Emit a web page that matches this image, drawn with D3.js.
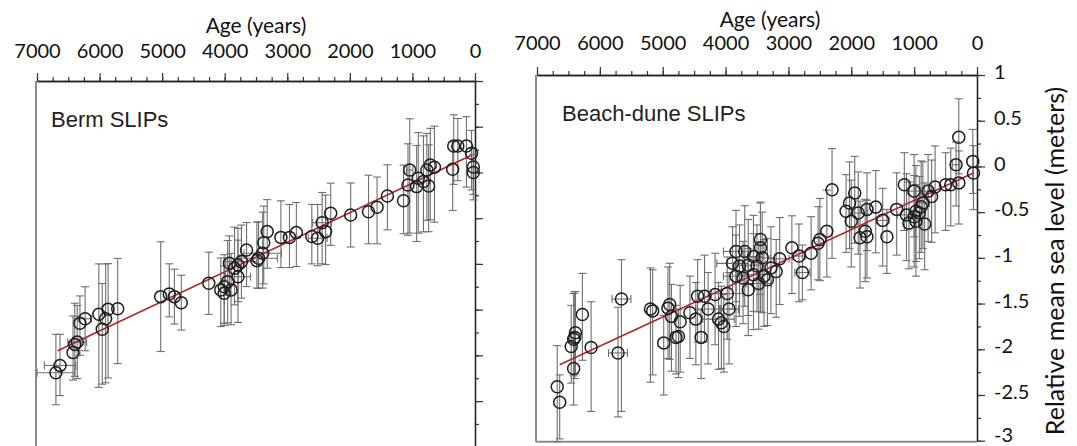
<!DOCTYPE html>
<html>
<head>
<meta charset="utf-8">
<script src="https://cdn.jsdelivr.net/npm/d3@7/dist/d3.min.js"></script>
<style>
  body { margin: 0; background: #fff; }
  svg { display: block; }
</style>
</head>
<body>
<svg id="chart"></svg>
<script>
// ---- data: Berm SLIPs (age in years BP, level in m, error up/down in m, age error in years)
var bermAge     = [340, 275, 137, 55, 27, 27, 357, 1043, 714, 648, 769, 906, 1071, 933, 741, 824,
                   1142, 1400, 1565, 1702, 1987, 2306, 2443, 2388, 2514, 2608, 2855, 2965, 3102,
                   3321, 3376, 3393, 3459, 3486, 3651, 3733, 3788, 3843, 3925, 3788, 3953, 4008,
                   4063, 3898, 4008, 4255, 5023, 4886, 4804, 4694, 5710, 5864, 6012, 5903, 6231,
                   6314, 5957, 6357, 6396, 6424, 6632, 6698];
var bermLevel   = [0.29, 0.29, 0.29, 0.21, 0.06, 0.0, 0.034, 0.027, 0.082, 0.056, 0.027, -0.064, -0.137, -0.155, -0.148, -0.10,
                   -0.31, -0.257, -0.38, -0.43, -0.465, -0.447, -0.549, -0.647, -0.72, -0.70, -0.658, -0.71, -0.71,
                   -0.647, -0.768, -0.884, -0.939, -0.964, -0.848, -0.975, -1.012, -1.048, -0.994, -1.14, -1.194, -1.249,
                   -1.285, -1.285, -1.322, -1.212, -1.358, -1.329, -1.358, -1.424, -1.49, -1.497, -1.55, -1.60, -1.60,
                   -1.65, -1.715, -1.854, -1.88, -1.97, -2.11, -2.19];
var bermErrUp   = [0.34, 0.30, 0.32, 0.25, 0.2, 0.2, 0.3, 0.56, 0.4, 0.45, 0.4, 0.5, 0.45, 0.45, 0.45, 0.5,
                   0.39, 0.34, 0.33, 0.4, 0.35, 0.33, 0.33, 0.4, 0.37, 0.35, 0.33, 0.36, 0.4,
                   0.35, 0.4, 0.45, 0.4, 0.42, 0.3, 0.4, 0.4, 0.45, 0.3, 0.4, 0.45, 0.35,
                   0.35, 0.4, 0.3, 0.34, 0.6, 0.33, 0.3, 0.3, 0.55, 0.5, 0.55, 0.6, 0.35,
                   0.3, 0.5, 0.4, 0.45, 0.4, 0.34, 0.42];
var bermErrDown = [0.42, 0.38, 0.45, 0.4, 0.3, 0.3, 0.45, 0.69, 0.6, 0.6, 0.55, 0.6, 0.55, 0.6, 0.5, 0.55,
                   0.36, 0.37, 0.4, 0.35, 0.35, 0.35, 0.45, 0.36, 0.3, 0.3, 0.37, 0.33, 0.33,
                   0.4, 0.45, 0.38, 0.33, 0.3, 0.4, 0.4, 0.4, 0.4, 0.35, 0.5, 0.45, 0.4,
                   0.4, 0.38, 0.35, 0.34, 0.6, 0.25, 0.3, 0.3, 0.6, 0.75, 0.8, 0.7, 0.35,
                   0.35, 0.6, 0.4, 0.35, 0.3, 0.33, 0.35];
var bermAgeErr  = [0, 0, 0, 0, 0, 0, 0, 50, 0, 0, 0, 0, 0, 0, 0, 0,
                   0, 0, 0, 0, 0, 0, 150, 0, 150, 0, 0, 0, 0,
                   0, 0, 300, 300, 0, 0, 250, 0, 0, 0, 200, 0, 0,
                   0, 0, 0, 0, 0, 0, 0, 0, 0, 0, 0, 0, 100,
                   0, 0, 150, 0, 0, 250, 300];
var bermFitAge   = [6670, 50];
var bermFitLevel = [-1.95, 0.19];

// ---- data: Beach-dune SLIPs
var duneAge     = [290, 67, 333, 56, 289, 417, 500, 667, 778, 722, 861, 889, 972, 1000, 1156, 1278,
                   1122, 1000, 917, 1083, 972, 833, 1500, 1611, 1750, 1889, 2028, 1945, 2083, 2000,
                   1778, 1861, 1750, 1433, 2306, 2389, 2500, 2528, 2639, 2833, 2945, 3139, 3195, 2778,
                   3445, 3445, 3417, 3834, 3695, 3556, 3889, 3778, 3639, 3500, 3834, 3722, 3556, 3389,
                   3278, 3334, 3472, 3639, 3973, 4167, 4334, 4445, 5656, 5195, 5160, 4889, 4917, 6278,
                   4861, 4722, 4567, 4473, 4278, 4112, 4067, 4028, 3945, 4750, 4789, 4389, 4984, 6389,
                   6400, 6417, 6456, 6139, 5711, 6417, 6678, 6639];
var duneLevel   = [0.32, 0.055, 0.018, -0.073, -0.18, -0.20, -0.20, -0.226, -0.27, -0.33, -0.40, -0.44, -0.49, -0.27, -0.20, -0.47,
                   -0.53, -0.55, -0.51, -0.62, -0.60, -0.63, -0.59, -0.445, -0.47, -0.51, -0.40, -0.29, -0.49, -0.60,
                   -0.71, -0.78, -0.77, -0.77, -0.255, -0.71, -0.80, -0.84, -0.95, -0.98, -0.89, -1.01, -1.15, -1.16,
                   -0.80, -0.89, -1.00, -0.93, -0.93, -0.985, -1.06, -1.09, -1.08, -1.09, -1.20, -1.22, -1.185, -1.20,
                   -1.11, -1.24, -1.28, -1.35, -1.39, -1.40, -1.42, -1.42, -1.45, -1.56, -1.58, -1.51, -1.55, -1.62,
                   -1.64, -1.70, -1.60, -1.67, -1.56, -1.67, -1.71, -1.75, -1.56, -1.86, -1.87, -1.87, -1.93, -1.82,
                   -1.87, -1.89, -1.97, -1.98, -2.04, -2.21, -2.41, -2.58];
var duneErrUp   = [0.42, 0.35, 0.25, 0.3, 0.35, 0.4, 0.35, 0.45, 0.4, 0.4, 0.45, 0.5, 0.5, 0.4, 0.35, 0.4,
                   0.45, 0.45, 0.4, 0.45, 0.4, 0.45, 0.35, 0.4, 0.4, 0.45, 0.45, 0.4, 0.4, 0.45,
                   0.35, 0.4, 0.4, 0.3, 0.45, 0.45, 0.45, 0.4, 0.4, 0.35, 0.35, 0.45, 0.35, 0.3,
                   0.4, 0.5, 0.5, 0.45, 0.5, 0.45, 0.4, 0.45, 0.5, 0.45, 0.45, 0.4, 0.45, 0.4,
                   0.45, 0.45, 0.45, 0.45, 0.4, 0.45, 0.45, 0.4, 0.43, 0.45, 0.45, 0.45, 0.45, 0.45,
                   0.35, 0.4, 0.4, 0.4, 0.4, 0.4, 0.4, 0.35, 0.4, 0.3, 0.35, 0.3, 0.3, 0.45,
                   0.5, 0.5, 0.45, 0.5, 0.5, 0.4, 0.45, 0.3];
var duneErrDown = [0.40, 0.35, 0.45, 0.4, 0.45, 0.45, 0.5, 0.5, 0.55, 0.5, 0.5, 0.5, 0.55, 0.5, 0.5, 0.5,
                   0.5, 0.55, 0.5, 0.5, 0.6, 0.5, 0.5, 0.5, 0.45, 0.45, 0.5, 0.55, 0.45, 0.5,
                   0.55, 0.55, 0.45, 0.4, 0.75, 0.5, 0.45, 0.4, 0.4, 0.5, 0.5, 0.5, 0.5, 0.3,
                   0.6, 0.7, 0.6, 0.55, 0.6, 0.6, 0.5, 0.55, 0.55, 0.5, 0.55, 0.5, 0.6, 0.55,
                   0.5, 0.5, 0.5, 0.5, 0.5, 0.55, 0.5, 0.5, 1.23, 0.8, 0.7, 0.6, 0.55, 0.5,
                   0.6, 0.55, 0.5, 0.5, 0.6, 0.55, 0.5, 0.5, 0.6, 0.45, 0.4, 0.45, 0.57, 0.45,
                   0.45, 0.4, 0.4, 0.7, 0.7, 0.4, 0.6, 0.4];
var duneAgeErr  = [0, 0, 60, 0, 0, 0, 0, 0, 80, 0, 100, 0, 0, 100, 0, 0,
                   150, 0, 0, 0, 0, 0, 100, 0, 0, 150, 0, 0, 0, 0,
                   0, 0, 0, 0, 0, 0, 0, 0, 0, 100, 0, 150, 0, 120,
                   0, 0, 200, 200, 0, 150, 250, 0, 200, 0, 200, 0, 250, 0,
                   0, 0, 200, 0, 250, 0, 0, 0, 150, 0, 0, 0, 0, 0,
                   0, 0, 0, 0, 200, 250, 0, 0, 150, 0, 0, 0, 0, 0,
                   0, 0, 0, 0, 150, 0, 0, 0];
var duneFitAge   = [6640, 50];
var duneFitLevel = [-2.17, -0.07];

// axis ticks
var ageMajor   = [7000, 6000, 5000, 4000, 3000, 2000, 1000, 0];
var ageMinor   = d3.range(0, 7001, 250);
var levelMajor = [1, 0.5, 0, -0.5, -1, -1.5, -2, -2.5, -3];
var levelMinor = d3.range(-3, 1.001, 0.25);

var svg = d3.select('#chart')
    .attr('width', 1077)
    .attr('height', 446);

var barColor = '#6f6f6f';

function drawPanel(p) {
    var x = d3.scaleLinear().domain([7000, 0]).range([p.left, p.right]);
    var y = d3.scaleLinear().domain([-3, 1]).range([p.bottom, p.top]);

    var g = svg.append('g');

    // frame (gray left + bottom)
    g.append('line')
        .attr('x1', p.left - 1).attr('x2', p.left - 1)
        .attr('y1', p.top).attr('y2', p.bottom + 1)
        .style('stroke', '#8c8c8c').style('stroke-width', 2);
    g.append('line')
        .attr('x1', p.left - 1).attr('x2', p.right)
        .attr('y1', p.bottom + 1).attr('y2', p.bottom + 1)
        .style('stroke', '#8c8c8c').style('stroke-width', 2);

    // top age axis
    g.append('g')
        .attr('transform', 'translate(0,' + p.top + ')')
        .call(d3.axisTop(x).tickValues(ageMinor).tickSize(4).tickSizeOuter(0).tickFormat(''));
    var majorX = g.append('g')
        .attr('transform', 'translate(0,' + p.top + ')')
        .call(d3.axisTop(x).tickValues(ageMajor).tickSize(8).tickSizeOuter(0).tickFormat(function (d) { return String(d); }));
    majorX.selectAll('text')
        .attr('y', -p.tickLabelOffset)
        .style('font-family', 'Lato, "Open Sans", sans-serif')
        .style('font-size', '20px')
        .style('fill', '#111');

    // right level axis
    g.append('g')
        .attr('transform', 'translate(' + p.right + ',0)')
        .call(d3.axisRight(y).tickValues(levelMinor).tickSize(4).tickSizeOuter(0).tickFormat(''));
    var majorY = g.append('g')
        .attr('transform', 'translate(' + p.right + ',0)')
        .call(d3.axisRight(y).tickValues(levelMajor).tickSize(8).tickSizeOuter(0)
            .tickPadding(9)
            .tickFormat(function (d) { return p.yLabels ? String(d) : ''; }));
    majorY.selectAll('text')
        .attr('dy', function (d) { return d === -3 ? '0.02em' : '0.18em'; })
        .style('font-family', 'Lato, "Open Sans", sans-serif')
        .style('font-size', '20px')
        .style('fill', '#111');

    g.selectAll('.domain').style('stroke', '#222').style('stroke-width', 1.3);
    g.selectAll('.tick line').style('stroke', '#333').style('stroke-width', 1.2);

    // age title
    g.append('text')
        .attr('x', p.ageTitleX)
        .attr('y', p.ageTitleY)
        .attr('text-anchor', 'middle')
        .style('font-family', 'Lato, "Open Sans", sans-serif')
        .style('font-size', '21px')
        .style('fill', '#111')
        .text('Age (years)');

    // panel title
    g.append('text')
        .attr('x', p.titleX)
        .attr('y', p.titleY)
        .style('font-family', '"Liberation Sans", Arial, sans-serif')
        .style('font-size', '22px')
        .style('fill', '#222')
        .text(p.title);

    var pts = p.age.map(function (a, i) {
        return { age: a, level: p.level[i], up: p.up[i], down: p.down[i], ageErr: p.ageErr[i] };
    });

    // error bars
    var bars = g.append('g').style('stroke', barColor).style('stroke-width', 1.1);
    pts.forEach(function (d) {
        var cx = x(d.age), yTop = y(d.level + d.up), yBot = y(d.level - d.down);
        bars.append('line').attr('x1', cx).attr('x2', cx).attr('y1', yTop).attr('y2', yBot);
        bars.append('line').attr('x1', cx - 4).attr('x2', cx + 4).attr('y1', yTop).attr('y2', yTop);
        bars.append('line').attr('x1', cx - 4).attr('x2', cx + 4).attr('y1', yBot).attr('y2', yBot);
        if (d.ageErr > 0) {
            var cy = y(d.level), xl = x(d.age + d.ageErr), xr = x(d.age - d.ageErr);
            bars.append('line').attr('x1', xl).attr('x2', xr).attr('y1', cy).attr('y2', cy);
            bars.append('line').attr('x1', xl).attr('x2', xl).attr('y1', cy - 4).attr('y2', cy + 4);
            bars.append('line').attr('x1', xr).attr('x2', xr).attr('y1', cy - 4).attr('y2', cy + 4);
        }
    });

    // fit line
    var fit = p.fitAge.map(function (a, i) { return [a, p.fitLevel[i]]; });
    g.append('path')
        .datum(fit)
        .attr('d', d3.line().x(function (d) { return x(d[0]); }).y(function (d) { return y(d[1]); }))
        .style('fill', 'none')
        .style('stroke', '#b3262a')
        .style('stroke-width', 1.6);

    // points
    g.selectAll('circle')
        .data(pts)
        .enter()
        .append('circle')
        .attr('cx', function (d) { return x(d.age); })
        .attr('cy', function (d) { return y(d.level); })
        .attr('r', 6)
        .style('fill', 'none')
        .style('stroke', '#1e1e1e')
        .style('stroke-width', 1.5);
}

drawPanel({
    left: 37, right: 475, top: 81, bottom: 446.8,
    tickLabelOffset: 23, ageTitleX: 256, ageTitleY: 33,
    title: 'Berm SLIPs', titleX: 51, titleY: 127,
    yLabels: false,
    age: bermAge, level: bermLevel, up: bermErrUp, down: bermErrDown, ageErr: bermAgeErr,
    fitAge: bermFitAge, fitLevel: bermFitLevel
});

drawPanel({
    left: 537, right: 977, top: 75, bottom: 440.7,
    tickLabelOffset: 25, ageTitleX: 770, ageTitleY: 27,
    title: 'Beach-dune SLIPs', titleX: 562, titleY: 121,
    yLabels: true,
    age: duneAge, level: duneLevel, up: duneErrUp, down: duneErrDown, ageErr: duneAgeErr,
    fitAge: duneFitAge, fitLevel: duneFitLevel
});

// y axis title on the right
svg.append('text')
    .attr('transform', 'translate(1064,261) rotate(-90)')
    .attr('text-anchor', 'middle')
    .style('font-family', 'Lato, "Open Sans", sans-serif')
    .style('font-size', '25px')
    .style('fill', '#111')
    .text('Relative mean sea level (meters)');
</script>
</body>
</html>
